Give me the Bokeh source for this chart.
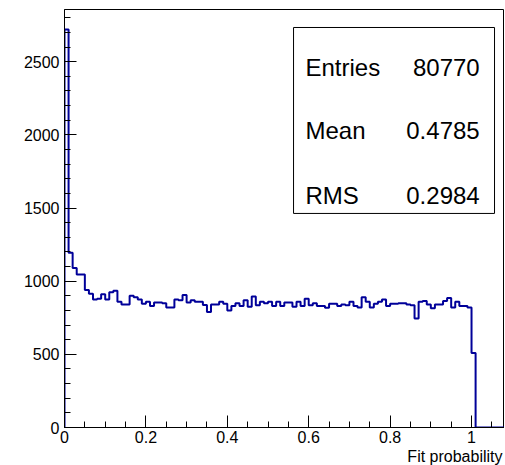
import numpy as np
from bokeh.plotting import figure
from bokeh.models import FixedTicker, Label, BoxAnnotation, Range1d, Title
from bokeh.embed import file_html
from bokeh.resources import INLINE

# Histogram: 108 bins of width 0.01 from 0 to 1.08
bin_width = 0.01
n_bins = 108
counts = [
    2720, 1195, 1090, 1045, 1045, 940, 915, 875, 880, 910,
    875, 925, 935, 860, 840, 840, 900, 890, 875, 845,
    860, 830, 855, 855, 850, 820, 820, 875, 870, 905,
    855, 870, 860, 860, 838, 790, 840, 840, 860, 845,
    800, 830, 850, 830, 870, 825, 895, 835, 860, 850,
    860, 830, 860, 830, 855, 855, 825, 860, 830, 880,
    835, 850, 830, 830, 818, 845, 845, 830, 840, 835,
    860, 830, 820, 890, 860, 820, 845, 860, 875, 830,
    845, 845, 850, 850, 840, 835, 745, 860, 865, 840,
    815, 840, 840, 865, 885, 820, 860, 830, 830, 820,
    510,
]
counts = counts + [0] * (n_bins - len(counts))

x_ticks = [0, 0.2, 0.4, 0.6, 0.8, 1.0]
x_tick_labels = ["0", "0.2", "0.4", "0.6", "0.8", "1"]
y_ticks = [0, 500, 1000, 1500, 2000, 2500]

x_title = "Fit probability"
stats_names = ["Entries", "Mean", "RMS"]
stats_values = ["80770", "0.4785", "0.2984"]

x_max = 1.081
y_max = 2857

edges = np.arange(n_bins + 1) * bin_width
cnt = np.array(counts, dtype=float)
xs = np.concatenate([[edges[0]], np.repeat(edges, 2)[1:-1], [edges[-1]]])
ys = np.concatenate([[0], np.repeat(cnt, 2), [0]])

FONT = "Liberation Sans"

p = figure(width=504, height=465, output_backend="svg", toolbar_location=None,
           x_range=Range1d(0, x_max), y_range=Range1d(0, y_max),
           min_border_left=64, min_border_right=0, min_border_top=9, min_border_bottom=38)
p.background_fill_color = "white"
p.border_fill_color = "white"
p.grid.visible = False
p.outline_line_color = "black"
p.outline_line_width = 1

p.line(xs, ys, line_color="#000099", line_width=2)

xminor = [round(0.05 * i, 2) for i in range(0, 22) if round(0.05 * i, 2) not in x_ticks]
p.xaxis.ticker = FixedTicker(ticks=x_ticks, minor_ticks=xminor)
p.xaxis.major_label_overrides = {t: l for t, l in zip(x_ticks, x_tick_labels)}
yminor = [100 * i for i in range(0, 29) if 100 * i not in y_ticks]
p.yaxis.ticker = FixedTicker(ticks=y_ticks, minor_ticks=yminor)

for ax in (p.xaxis, p.yaxis):
    ax.axis_line_color = "black"
    ax.major_tick_line_color = "black"
    ax.minor_tick_line_color = "black"
    ax.major_tick_in = 12
    ax.major_tick_out = 0
    ax.minor_tick_in = 6
    ax.minor_tick_out = 0
    ax.major_label_text_font = FONT
    ax.major_label_text_font_size = "16px"
    ax.major_label_text_color = "black"
    ax.major_label_standoff = 5

p.xaxis.major_label_standoff = 3

p.add_layout(Title(text=x_title, align="right", text_font=FONT, text_font_size="16px",
                   text_font_style="normal", text_color="black", standoff=0, offset=2),
             "below")

# Stats box
p.add_layout(BoxAnnotation(left=0.5627, right=1.0565, top=2734, bottom=1463,
                           fill_color="white", fill_alpha=1.0,
                           line_color="black", line_alpha=1.0, line_width=1, level="underlay"))
baselines = [2462, 2030, 1586]
for name, val, yb in zip(stats_names, stats_values, baselines):
    p.add_layout(Label(x=0.592, y=yb, text=name, text_align="left", text_baseline="alphabetic",
                       text_font=FONT, text_font_size="24px", text_color="black"))
    p.add_layout(Label(x=1.02, y=yb, text=val, text_align="right", text_baseline="alphabetic",
                       text_font=FONT, text_font_size="24px", text_color="black"))

open("out.html", "w").write(file_html(p, INLINE))
